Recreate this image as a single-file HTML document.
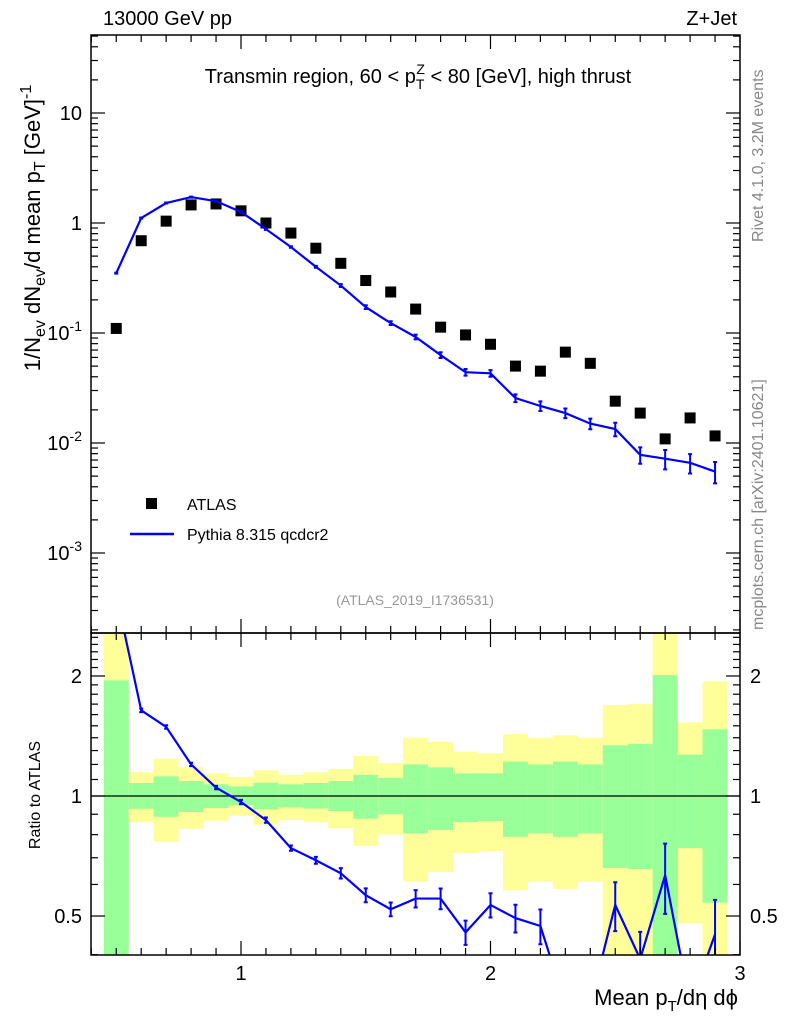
<!DOCTYPE html>
<html><head><meta charset="utf-8"><style>
html,body{margin:0;padding:0;background:#fff;}
svg{display:block;font-family:"Liberation Sans",Arial,sans-serif;}
</style></head><body>
<svg id="chart" width="786" height="1024" viewBox="0 0 786 1024" xmlns="http://www.w3.org/2000/svg">
<g id="ratioBands"></g>
<g id="marks"></g>
<rect x="91" y="35" width="649" height="598" fill="none" stroke="#000" stroke-width="1.5"/>
<rect x="91" y="633" width="649" height="322" fill="none" stroke="#000" stroke-width="1.5"/>
<g id="ticks"></g>
<text x="103" y="25" font-size="20">13000 GeV pp</text>
<text x="737" y="25" font-size="20" text-anchor="end">Z+Jet</text>
<text x="418" y="83" font-size="20" text-anchor="middle">Transmin region, 60 &lt; p<tspan font-size="14" dy="6">T</tspan><tspan font-size="14" dx="-8" dy="-15">Z</tspan><tspan dy="9"> &lt; 80 [GeV], high thrust</tspan></text>
<text x="415" y="605" font-size="14" fill="#999" text-anchor="middle">(ATLAS_2019_I1736531)</text>
<text transform="translate(40,228) rotate(-90)" font-size="22" text-anchor="middle">1/N<tspan font-size="16" dy="5">ev</tspan><tspan dy="-5"> dN</tspan><tspan font-size="16" dy="5">ev</tspan><tspan dy="-5">/d mean p</tspan><tspan font-size="16" dy="5">T</tspan><tspan dy="-5"> [GeV]</tspan><tspan font-size="16" dy="-9">-1</tspan></text>
<text transform="translate(40,795) rotate(-90)" font-size="16" text-anchor="middle">Ratio to ATLAS</text>
<text x="738" y="1005" font-size="22" text-anchor="end">Mean p<tspan font-size="15" dy="6">T</tspan><tspan dy="-6">/dη dϕ</tspan></text>
<text transform="translate(763,242) rotate(-90)" font-size="16" fill="#888">Rivet 4.1.0,  3.2M events</text>
<text transform="translate(763,630) rotate(-90)" font-size="16" fill="#888">mcplots.cern.ch [arXiv:2401.10621]</text>
<rect x="146" y="498" width="11" height="11" fill="#000"/>
<text x="187" y="510" font-size="16">ATLAS</text>
<line x1="130" y1="534" x2="174" y2="534" stroke="#00f" stroke-width="2.5"/>
<text x="187" y="540" font-size="16">Pythia 8.315 qcdcr2</text>
</svg>
<script>
const xs=[0.5,0.6,0.7,0.8,0.9,1.0,1.1,1.2,1.3,1.4,1.5,1.6,1.7,1.8,1.9,2.0,2.1,2.2,2.3,2.4,2.5,2.6,2.7,2.8,2.9];
const atlas=[0.11,0.69,1.04,1.46,1.49,1.29,1.0,0.81,0.59,0.43,0.30,0.236,0.165,0.113,0.096,0.079,0.050,0.045,0.067,0.053,0.024,0.0187,0.0109,0.0169,0.0116];
const pythia=[0.35,1.11,1.52,1.72,1.58,1.26,0.88,0.605,0.40,0.27,0.172,0.123,0.092,0.063,0.044,0.043,0.0256,0.0217,0.0187,0.0150,0.0134,0.0078,0.0072,0.0066,0.0055];
const pyRelErr=[0.01,0.01,0.01,0.01,0.01,0.012,0.015,0.015,0.02,0.03,0.04,0.04,0.05,0.06,0.07,0.07,0.08,0.1,0.1,0.11,0.14,0.17,0.2,0.2,0.22];
const ratio=[3.2,1.64,1.49,1.20,1.05,0.966,0.87,0.74,0.69,0.64,0.564,0.52,0.553,0.553,0.455,0.533,0.494,0.472,0.3,0.3,0.533,0.39,0.633,0.3,0.45];
const yelUp=[2.7,1.147,1.24,1.18,1.14,1.116,1.16,1.13,1.147,1.17,1.26,1.21,1.40,1.366,1.29,1.28,1.43,1.40,1.42,1.40,1.69,1.70,2.7,1.53,1.94];
const grnUp=[1.95,1.078,1.12,1.09,1.07,1.057,1.08,1.07,1.078,1.09,1.13,1.11,1.20,1.18,1.14,1.14,1.22,1.20,1.22,1.20,1.34,1.35,2.01,1.27,1.47];
const grnDn=[0.3,0.929,0.887,0.912,0.933,0.948,0.926,0.937,0.93,0.917,0.877,0.90,0.806,0.822,0.86,0.866,0.79,0.806,0.79,0.806,0.66,0.656,0.3,0.74,0.54];
const yelDn=[0.3,0.86,0.768,0.828,0.867,0.892,0.847,0.87,0.86,0.83,0.75,0.80,0.61,0.645,0.72,0.728,0.58,0.61,0.585,0.61,0.3,0.3,0.3,0.48,0.3];
const mainYTicks=["10","1","10^-1","10^-2","10^-3"];
const ratioYTicks=[2,1,0.5];
const xTickLabels=[1,2,3];

const NS="http://www.w3.org/2000/svg";
const X=v=>91.3+(v-0.4)*249.5;
const Y=v=>223-110*Math.log10(v);
const R=v=>796-398.7*Math.log10(v);
const clampR=y=>Math.max(633,Math.min(955,y));
function mk(tag,attrs,parent){const e=document.createElementNS(NS,tag);for(const k in attrs)e.setAttribute(k,attrs[k]);parent.appendChild(e);return e;}
const bands=document.getElementById('ratioBands');
const marks=document.getElementById('marks');
const ticks=document.getElementById('ticks');

xs.forEach((x,i)=>{
  const x0=X(x-0.05),w=X(x+0.05)-x0;
  let e=mk('rect',{x:x0,y:clampR(R(yelUp[i])),width:w,height:clampR(R(yelDn[i]))-clampR(R(yelUp[i])),fill:'#ffff99'},bands);
  
  
  e=mk('rect',{x:x0,y:clampR(R(grnUp[i])),width:w,height:clampR(R(grnDn[i]))-clampR(R(grnUp[i])),fill:'#99ff99'},bands);
  
  
});
let ul=mk('line',{x1:91,x2:740,y1:R(1),y2:R(1),stroke:'#000','stroke-width':1.2},bands);



xs.forEach((x,i)=>{
  const e=mk('rect',{x:X(x)-5.5,y:Y(atlas[i])-5.5,width:11,height:11,fill:'#000'},marks);
  
  
});
let pl=mk('polyline',{points:xs.map((x,i)=>X(x)+','+Y(pythia[i])).join(' '),fill:'none',stroke:'#00f','stroke-width':2.2},marks);


xs.forEach((x,i)=>{
  const y1=Y(pythia[i]*(1+pyRelErr[i])),y2=Y(pythia[i]*(1-pyRelErr[i]));
  const e=mk('path',{d:`M${X(x)},${y1}V${y2}M${X(x)-2},${y1}h4M${X(x)-2},${y2}h4`,stroke:'#00f','stroke-width':2,fill:'none'},marks);
  
  
});
const cp=mk('clipPath',{id:'rc'},marks);
mk('rect',{x:91,y:633,width:649,height:322},cp);
const rg=mk('g',{'clip-path':'url(#rc)'},marks);
let rl=mk('polyline',{points:xs.map((x,i)=>X(x)+','+R(ratio[i])).join(' '),fill:'none',stroke:'#00f','stroke-width':2.2},rg);


xs.forEach((x,i)=>{
  const y1=R(ratio[i]*(1+pyRelErr[i])),y2=R(ratio[i]*(1-pyRelErr[i]));
  const e=mk('path',{d:`M${X(x)},${y1}V${y2}M${X(x)-2},${y1}h4M${X(x)-2},${y2}h4`,stroke:'#00f','stroke-width':2,fill:'none'},rg);
  
  
});

function tl(x1,y1,x2,y2){mk('line',{x1,y1,x2,y2,stroke:'#000','stroke-width':1.2},ticks);}
for(let k=4;k<=30;k++){const v=k/10,x=X(v),major=(k%10===0);const L=major?14:7;
  tl(x,35,x,35+L);tl(x,633,x,633-L);tl(x,633,x,633+L);tl(x,955,x,955-L);}
xTickLabels.forEach(v=>{const t=mk('text',{x:X(v),y:980,'font-size':20,'text-anchor':'middle'},ticks);t.textContent=v;
  
  });
for(let d=-4;d<=1;d++){for(let m=1;m<=9;m++){const v=m*Math.pow(10,d),y=Y(v);if(y<35||y>633)continue;const L=m===1?14:7;tl(91,y,91+L,y);tl(740,y,740-L,y);}}
mainYTicks.forEach((s,i)=>{const v=Math.pow(10,1-i),y=Y(v);const t=mk('text',{x:82,y:y+7,'font-size':20,'text-anchor':'end'},ticks);
  if(s.includes('^')){const p=s.split('^');t.textContent=p[0];const sp=mk('tspan',{'font-size':14,dy:-9},t);sp.textContent=p[1];}else t.textContent=s;
  
  });
const rmin=[0.4,0.5,0.6,0.7,0.8,0.9,1,1.1,1.2,1.3,1.4,1.5,1.6,1.7,1.8,1.9,2,2.1,2.2,2.3,2.4,2.5];
rmin.forEach(v=>{const y=R(v);const L=(v===1||v===2||v===0.5)?14:7;tl(91,y,91+L,y);tl(740,y,740-L,y);});
ratioYTicks.forEach(v=>{const y=R(v);
  let t=mk('text',{x:82,y:y+7,'font-size':20,'text-anchor':'end'},ticks);t.textContent=v;
  
  
  t=mk('text',{x:750,y:y+7,'font-size':20},ticks);t.textContent=v;
  
  });
</script>
</body></html>
